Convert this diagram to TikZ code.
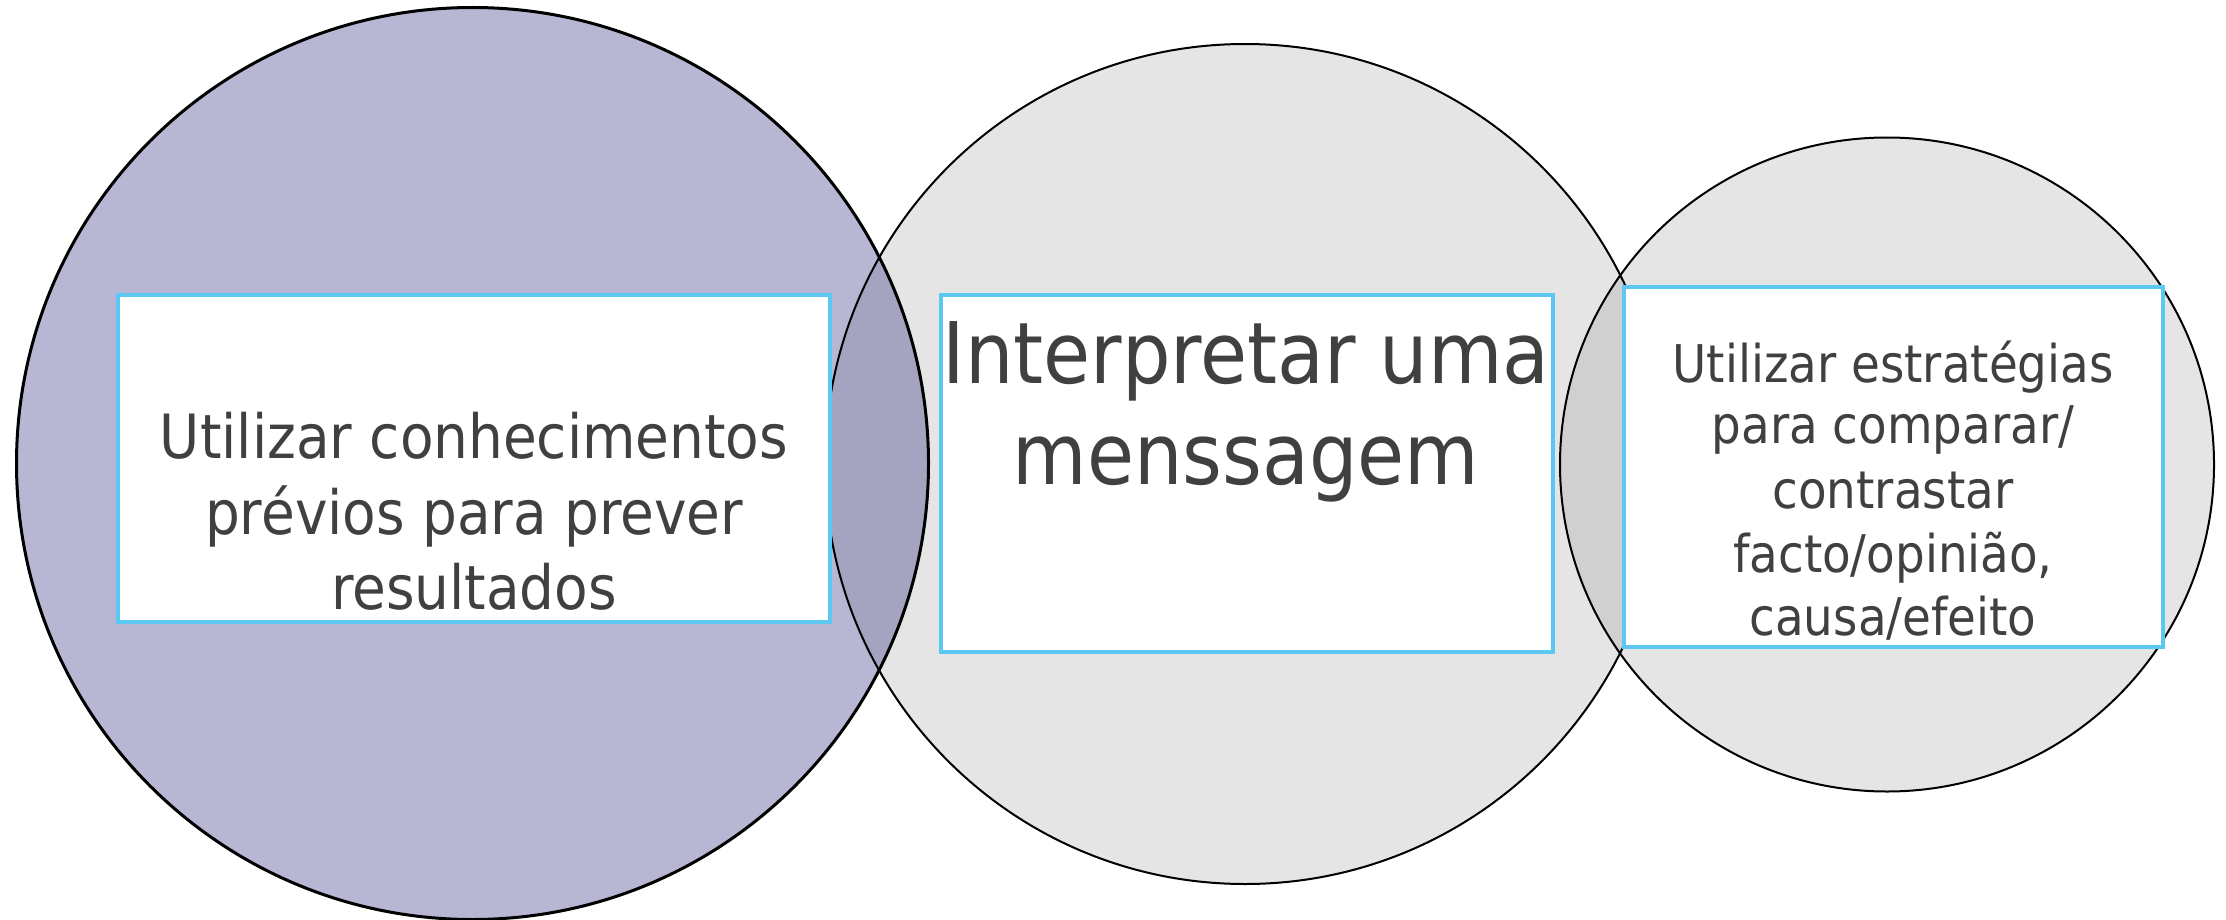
\documentclass[tikz,border=0pt]{standalone}
\usepackage{fontspec}
\setmainfont{DejaVu Sans Condensed}
\definecolor{lfill}{RGB}{183,183,212}
\definecolor{lmfill}{RGB}{164,164,192}
\definecolor{gfill}{RGB}{229,229,229}
\definecolor{mrfill}{RGB}{208,208,208}
\definecolor{boxline}{RGB}{92,200,242}
\definecolor{txtcol}{RGB}{64,64,64}
\begin{document}
\begin{tikzpicture}[x=0.5pt,y=-0.5pt,
  textbox/.style={draw=boxline,line width=1.8pt,fill=white,rectangle,inner sep=0pt,outer sep=0pt},
  txt/.style={anchor=base,inner sep=0pt,text=txtcol},
  fa/.style={font=\fontsize{30.5}{36}\selectfont},
  fb/.style={font=\fontsize{42.5}{50}\selectfont},
  fc/.style={font=\fontsize{26}{31}\selectfont}]
\useasboundingbox (0,0) rectangle (2226,920);
\coordinate (cL) at (472.5,463.5);
\coordinate (cM) at (1245,464);
\coordinate (cR) at (1887,464.5);
% fills
\fill[lfill] (cL) circle[radius=228pt];
\fill[gfill] (cM) circle[radius=210pt];
\fill[gfill] (cR) circle[radius=163.5pt];
\begin{scope}
  \clip (cL) circle[radius=228pt];
  \fill[lmfill] (cM) circle[radius=210pt];
\end{scope}
\begin{scope}
  \clip (cM) circle[radius=210pt];
  \fill[mrfill] (cR) circle[radius=163.5pt];
\end{scope}
% outlines
\draw[line width=1.5pt] (cL) circle[radius=228pt];
\draw[line width=1pt] (cM) circle[radius=210pt];
\draw[line width=1pt] (cR) circle[radius=163.5pt];
% boxes
\node[textbox,minimum width=356pt,minimum height=163.5pt] (bL) at (474,458.5) {};
\node[textbox,minimum width=306pt,minimum height=178.5pt] (bM) at (1247,473.5) {};
\node[textbox,minimum width=269.5pt,minimum height=180pt] (bR) at (1893.5,467) {};
% texts
\node[txt,fa] (l1) at (474,458) {Utilizar conhecimentos};
\node[txt,fa] (l2) at (474,534) {prévios para prever};
\node[txt,fa] (l3) at (474,609) {resultados};
\node[txt,fb] (m1) at (1246,383) {Interpretar uma};
\node[txt,fb] (m2) at (1246,484) {menssagem};
\node[txt,fc] (r1) at (1893,382) {Utilizar estratégias};
\node[txt,fc] (r2) at (1893,443) {para comparar/};
\node[txt,fc] (r3) at (1893,508) {contrastar};
\node[txt,fc] (r4) at (1893,572) {facto/opinião,};
\node[txt,fc] (r5) at (1893,635) {causa/efeito};
\end{tikzpicture}
\end{document}
